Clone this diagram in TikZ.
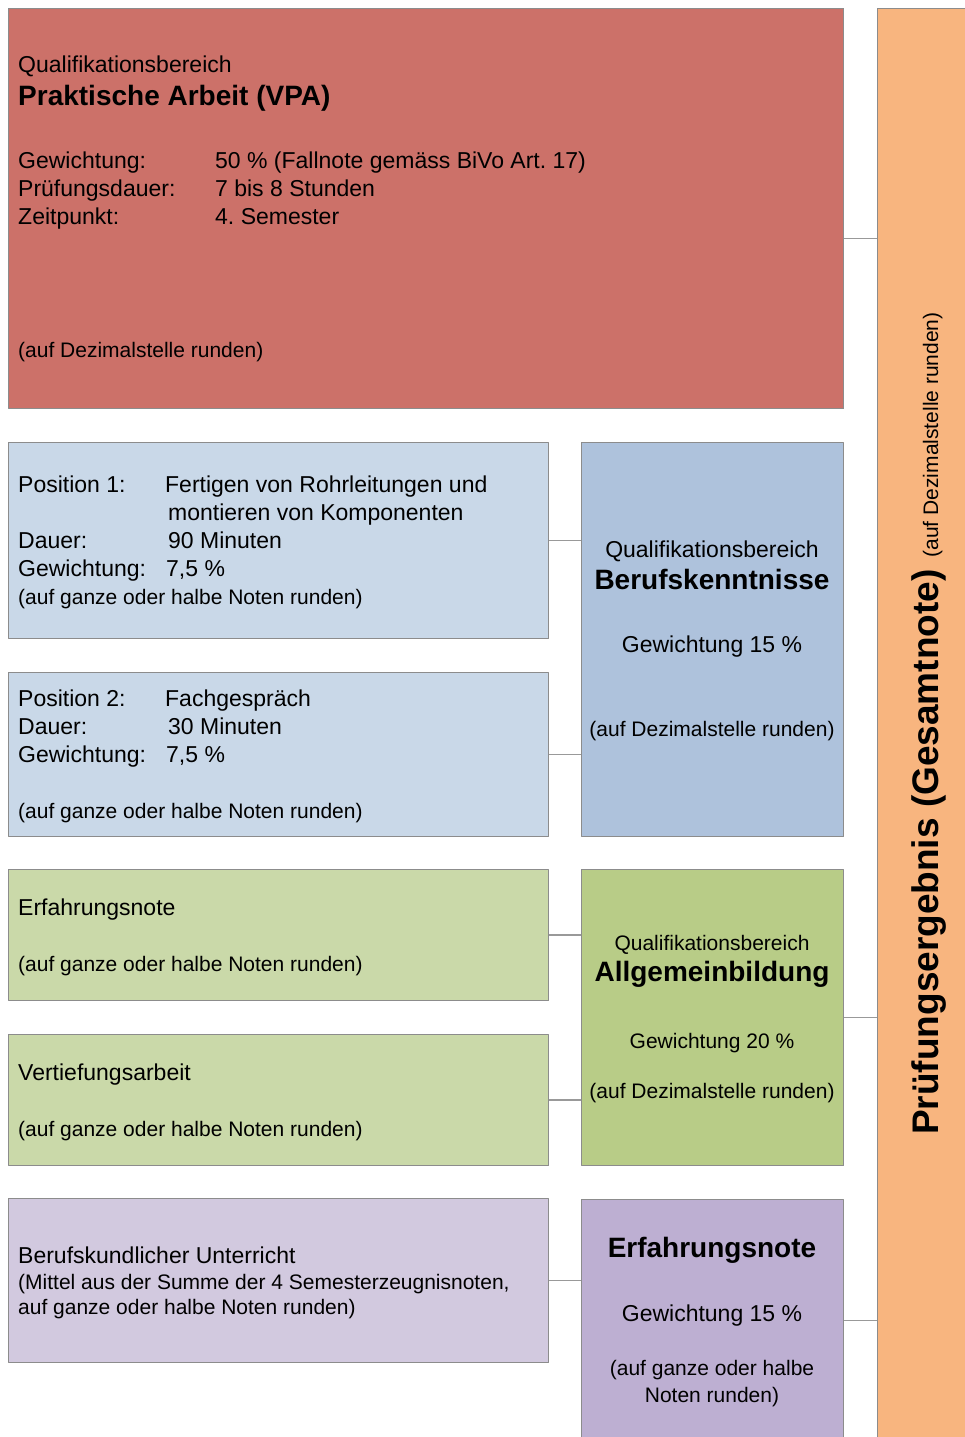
\documentclass[tikz,border=0pt]{standalone}
\usepackage{fontspec}
\setmainfont{Liberation Sans}
\frenchspacing
\definecolor{praxis}{HTML}{CC7169}
\definecolor{gesamt}{HTML}{F8B57F}
\definecolor{bkHell}{HTML}{C9D8E8}
\definecolor{bkDunkel}{HTML}{AEC2DC}
\definecolor{abHell}{HTML}{CAD9A9}
\definecolor{abDunkel}{HTML}{B8CC87}
\definecolor{buHell}{HTML}{D2C9DF}
\definecolor{buDunkel}{HTML}{BDAFD2}
\newcommand{\gr}[1]{\fontsize{#1}{28}\selectfont}
\begin{document}
\begin{tikzpicture}[x=1pt,y=-1pt,line join=round,
  box/.style={draw=black!45,line width=1pt,anchor=north west,inner sep=0pt},
  txt/.style={anchor=base west,inner sep=0pt,font=\gr{23}},
  ctr/.style={anchor=base,inner sep=0pt,font=\gr{23}},
  note/.style={font=\gr{21}},
  titel/.style={font=\gr{28}\bfseries},
  link/.style={draw=black!40,line width=1.4pt}]
\useasboundingbox (0,0) rectangle (965,1437);
\clip (0,0) rectangle (965,1437);
% Kaesten
\node[box,fill=praxis,minimum width=835pt,minimum height=400pt] (pa) at (8,8) {};
\node[box,fill=gesamt,minimum width=100pt,minimum height=1440pt] (erg) at (877,8) {};
\node[box,fill=bkHell,minimum width=540pt,minimum height=196pt] (pos1) at (8,442) {};
\node[box,fill=bkHell,minimum width=540pt,minimum height=164pt] (pos2) at (8,672) {};
\node[box,fill=bkDunkel,minimum width=262pt,minimum height=394pt] (bk) at (581,442) {};
\node[box,fill=abHell,minimum width=540pt,minimum height=131pt] (erf) at (8,869) {};
\node[box,fill=abHell,minimum width=540pt,minimum height=131pt] (vta) at (8,1034) {};
\node[box,fill=abDunkel,minimum width=262pt,minimum height=296pt] (ab) at (581,869) {};
\node[box,fill=buHell,minimum width=540pt,minimum height=164pt] (bu) at (8,1198) {};
\node[box,fill=buDunkel,minimum width=262pt,minimum height=242pt] (en) at (581,1199) {};
% Verbindungen
\draw[link] ([yshift=-30pt]pa.east) coordinate (c1) -- (c1 -| erg.west);
\draw[link] (pos1.east) -- (pos1.east -| bk.west);
\draw[link] (pos2.east) -- (pos2.east -| bk.west);
\draw[link] (erf.east) -- (erf.east -| ab.west);
\draw[link] (vta.east) -- (vta.east -| ab.west);
\draw[link] (ab.east) -- (ab.east -| erg.west);
\draw[link] (bu.east) -- (bu.east -| en.west);
\draw[link] (en.east) -- (en.east -| erg.west);
% Praktische Arbeit
\node[txt] (paQ) at (18,73) {Qualifikationsbereich};
\node[txt,titel] (paT) at (18,105) {Praktische Arbeit (VPA)};
\node[txt] (paD) at (18,168) {\begin{tabular}[t]{@{}p{197pt}@{}l@{}}
  Gewichtung: & 50 \% (Fallnote gemäss BiVo Art. 17)\\
  Prüfungsdauer: & 7 bis 8 Stunden\\
  Zeitpunkt: & 4. Semester
  \end{tabular}};
\node[txt,note] (paR) at (18,357) {(auf Dezimalstelle runden)};
% Positionen
\node[txt] (pos1T) at (18,492) {\begin{tabular}[t]{@{}p{150pt}@{}l@{}}
  Position 1: & \hspace*{-3pt}Fertigen von Rohrleitungen und\\
   & montieren von Komponenten\\
  Dauer: & 90 Minuten\\
  Gewichtung: & \hspace*{-2pt}7,5 \%\\
  \multicolumn{2}{@{}l@{}}{\gr{21}(auf ganze oder halbe Noten runden)}
  \end{tabular}};
\node[txt] (pos2T) at (18,706) {\begin{tabular}[t]{@{}p{150pt}@{}l@{}}
  Position 2: & \hspace*{-3pt}Fachgespräch\\
  Dauer: & 30 Minuten\\
  Gewichtung: & \hspace*{-2pt}7,5 \%\\
   & \\
  \multicolumn{2}{@{}l@{}}{\gr{21}(auf ganze oder halbe Noten runden)}
  \end{tabular}};
% Berufskenntnisse
\node[ctr] (bkQ) at (712,557) {Qualifikationsbereich};
\node[ctr,titel] (bkT) at (712,589) {Berufskenntnisse};
\node[ctr] (bkG) at (712,652) {Gewichtung 15 \%};
\node[ctr,note] (bkR) at (712,736) {(auf Dezimalstelle runden)};
% Allgemeinbildung
\node[txt] (erfT) at (18,915) {Erfahrungsnote};
\node[txt,note] (erfR) at (18,971) {(auf ganze oder halbe Noten runden)};
\node[txt] (vtaT) at (18,1080) {Vertiefungsarbeit};
\node[txt,note] (vtaR) at (18,1136) {(auf ganze oder halbe Noten runden)};
\node[ctr,note] (abQ) at (712,950) {Qualifikationsbereich};
\node[ctr,titel] (abT) at (712,981) {Allgemeinbildung};
\node[ctr,note] (abG) at (712,1048) {Gewichtung 20 \%};
\node[ctr,note] (abR) at (712,1098) {(auf Dezimalstelle runden)};
% Erfahrungsnote
\node[txt] (buT) at (18,1263) {Berufskundlicher Unterricht};
\node[txt,note] (buM) at (18,1289) {(Mittel aus der Summe der 4 Semesterzeugnisnoten,};
\node[txt,note] (buR) at (18,1314) {auf ganze oder halbe Noten runden)};
\node[ctr,titel] (enT) at (712,1257) {Erfahrungsnote};
\node[ctr] (enG) at (712,1321) {Gewichtung 15 \%};
\node[ctr,note] (enR1) at (712,1375) {(auf ganze oder halbe};
\node[ctr,note] (enR2) at (712,1402) {Noten runden)};
% Gesamtnote
\node[anchor=base west,rotate=90,inner sep=0pt] (ergT) at (938,1135)
  {\gr{37}\bfseries Prüfungsergebnis (Gesamtnote)\hspace{12pt}\gr{21}\mdseries (auf Dezimalstelle runden)};
\end{tikzpicture}
\end{document}
